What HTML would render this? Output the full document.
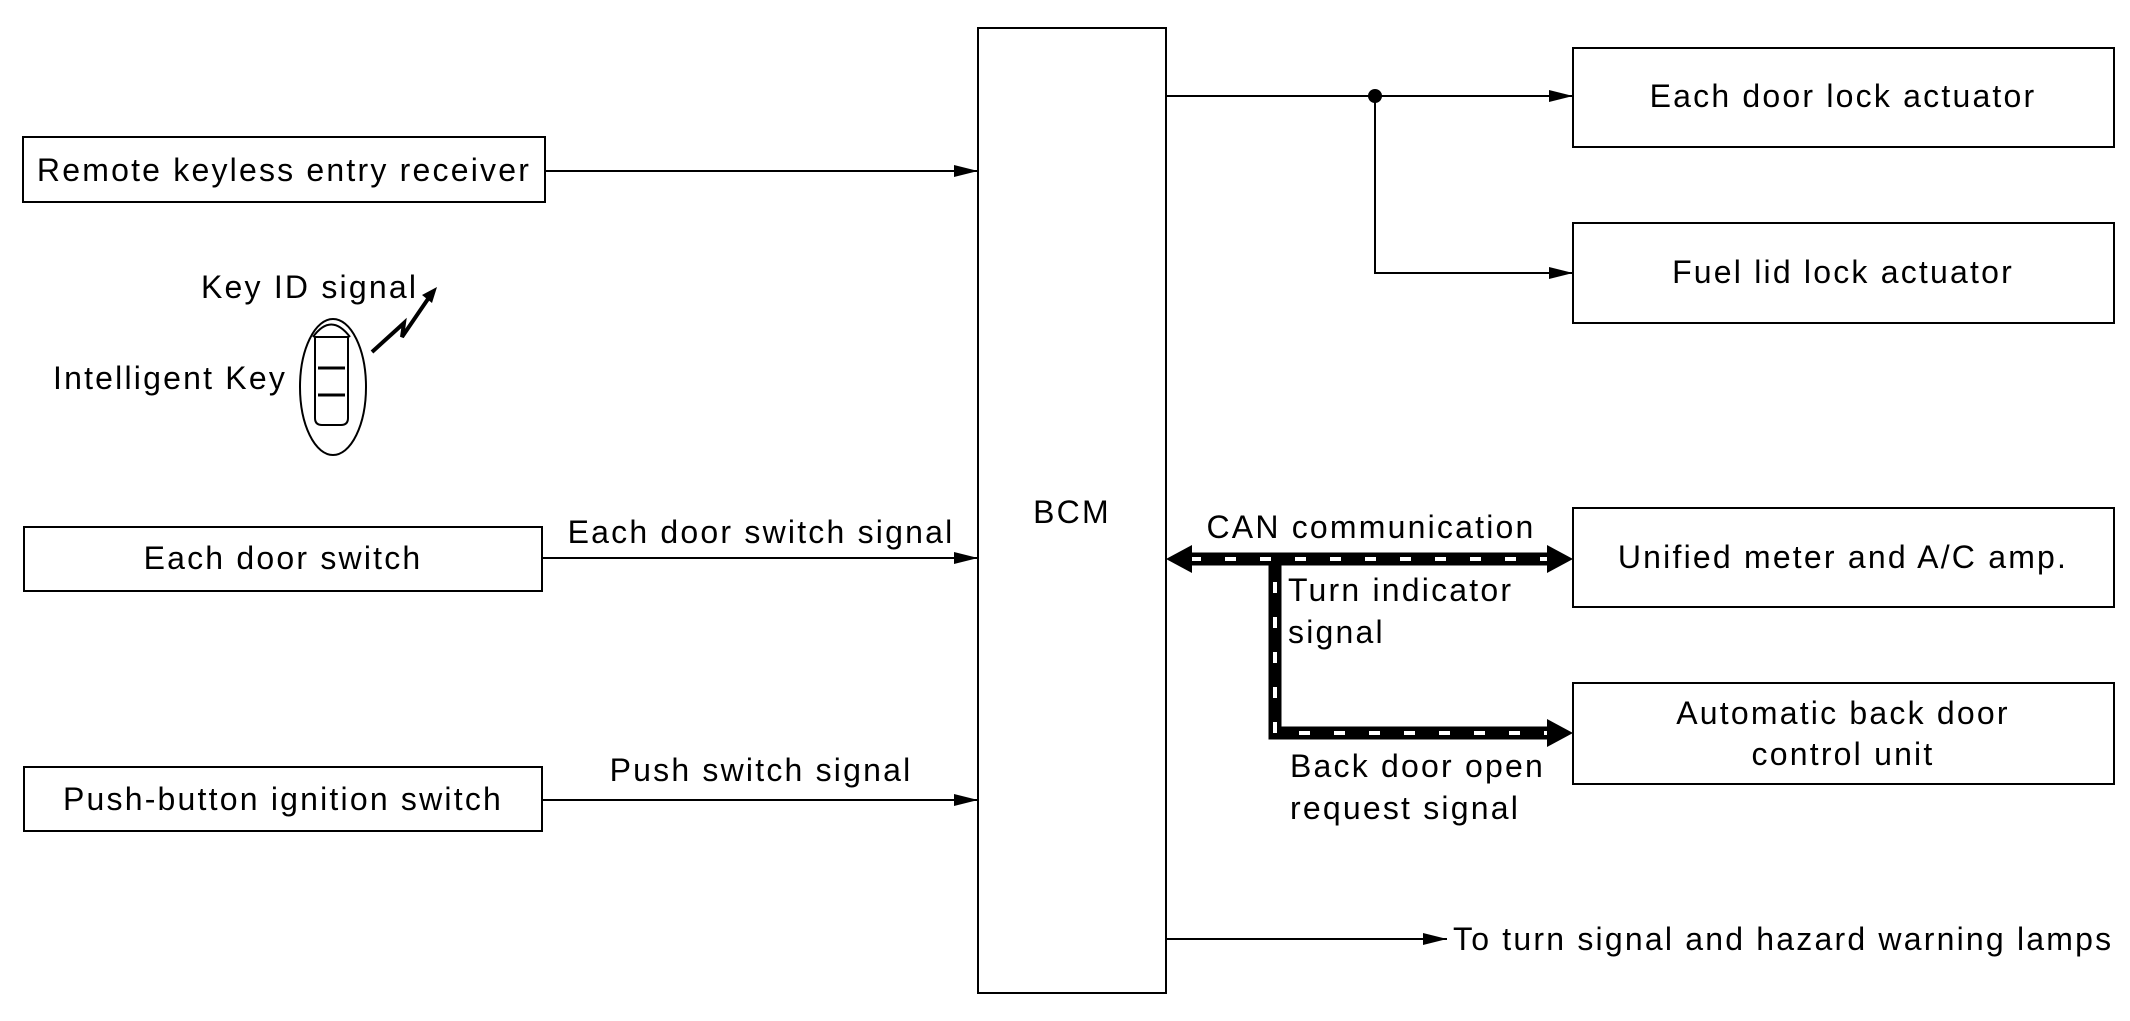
<!DOCTYPE html>
<html><head><style>body{margin:0;background:#fff}svg{display:block}text{font-family:"Liberation Sans",Arial,sans-serif;font-size:32px;letter-spacing:2.2px;fill:#000}</style></head>
<body>
<svg width="2130" height="1021" viewBox="0 0 2130 1021" xmlns="http://www.w3.org/2000/svg">
<defs>
<marker id="a" markerWidth="24" markerHeight="12" refX="24" refY="6" orient="auto" markerUnits="userSpaceOnUse"><path d="M0,0 L24,6 L0,12 Z" fill="#000"/></marker>
</defs>
<g fill="none" stroke="#000" stroke-width="2">
<rect x="978" y="28" width="188" height="965"/>
<rect x="23" y="137" width="522" height="65"/>
<rect x="24" y="527" width="518" height="64"/>
<rect x="24" y="767" width="518" height="64"/>
<rect x="1573" y="48" width="541" height="99"/>
<rect x="1573" y="223" width="541" height="100"/>
<rect x="1573" y="508" width="541" height="99"/>
<rect x="1573" y="683" width="541" height="101"/>
<line x1="545" y1="171" x2="978" y2="171" marker-end="url(#a)"/>
<line x1="542" y1="558" x2="978" y2="558" marker-end="url(#a)"/>
<line x1="542" y1="800" x2="978" y2="800" marker-end="url(#a)"/>
<line x1="1166" y1="96" x2="1573" y2="96" marker-end="url(#a)"/>
<polyline points="1375,96 1375,273 1573,273" marker-end="url(#a)"/>
<line x1="1166" y1="939" x2="1447" y2="939" marker-end="url(#a)"/>
<ellipse cx="333" cy="387" rx="33" ry="68"/>
<path d="M315,337 L315,418 Q315,425 322,425 L341,425 Q348,425 348,418 L348,337 Z"/>
<path d="M313,337 Q331,312 350,337"/>
<line x1="318" y1="368" x2="345" y2="368" stroke-width="3"/>
<line x1="318" y1="395" x2="345" y2="395" stroke-width="3"/>
<polyline points="372,352 404,323 402,337 430,296" stroke-width="4"/>
</g>
<circle cx="1375" cy="96" r="7" fill="#000"/>
<path d="M437,287 L422,295 L432,303 Z" fill="#000"/>
<g fill="none">
<path d="M1185,559 L1553,559 M1275,559 L1275,733 L1553,733" stroke="#000" stroke-width="13"/>
<path d="M1190,559 L1553,559" stroke="#fff" stroke-width="4" stroke-dasharray="11 24"/>
<path d="M1275,572 L1275,733 L1553,733" stroke="#fff" stroke-width="4" stroke-dasharray="11 24" stroke-dashoffset="-10"/>
</g>
<path d="M1166,559 L1192,545 L1192,573 Z" fill="#000"/>
<path d="M1573,559 L1547,545 L1547,573 Z" fill="#000"/>
<path d="M1573,733 L1547,719 L1547,747 Z" fill="#000"/>
<text x="1072" y="523" text-anchor="middle">BCM</text>
<text x="284" y="181" text-anchor="middle">Remote keyless entry receiver</text>
<text x="283" y="569" text-anchor="middle">Each door switch</text>
<text x="283" y="810" text-anchor="middle">Push-button ignition switch</text>
<text x="761" y="543" text-anchor="middle">Each door switch signal</text>
<text x="761" y="781" text-anchor="middle">Push switch signal</text>
<text x="201" y="298">Key ID signal</text>
<text x="53" y="389">Intelligent Key</text>
<text x="1843" y="107" text-anchor="middle">Each door lock actuator</text>
<text x="1843" y="283" text-anchor="middle">Fuel lid lock actuator</text>
<text x="1843" y="568" text-anchor="middle">Unified meter and A/C amp.</text>
<text x="1843" y="724" text-anchor="middle">Automatic back door</text>
<text x="1843" y="765" text-anchor="middle">control unit</text>
<text x="1371" y="538" text-anchor="middle">CAN communication</text>
<text x="1288" y="601">Turn indicator</text>
<text x="1288" y="643">signal</text>
<text x="1290" y="777">Back door open</text>
<text x="1290" y="819">request signal</text>
<text x="1453" y="950">To turn signal and hazard warning lamps</text>
</svg>
</body></html>
